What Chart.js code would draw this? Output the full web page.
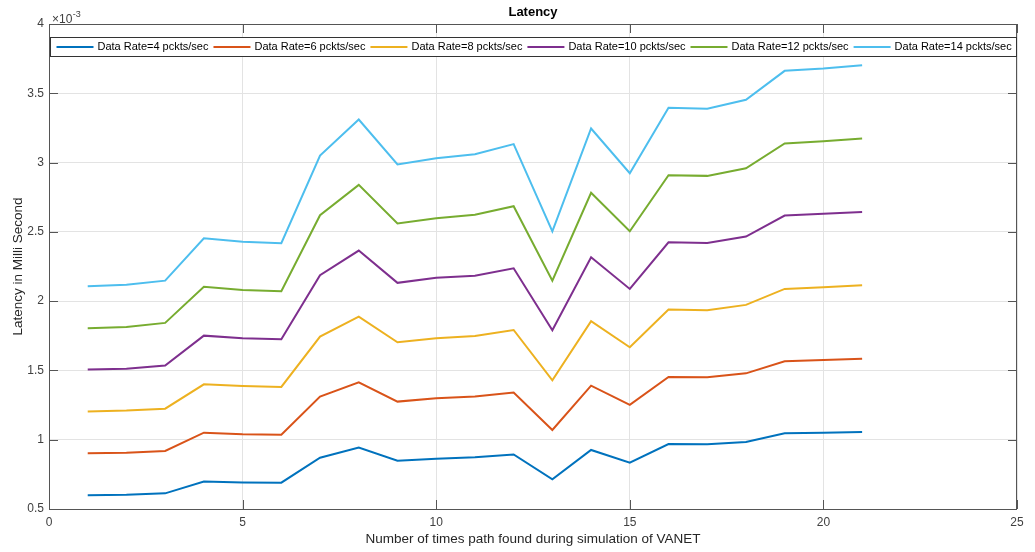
<!DOCTYPE html>
<html>
<head>
<meta charset="utf-8">
<title>Latency</title>
<script src="https://cdn.jsdelivr.net/npm/chart.js@4.4.1/dist/chart.umd.min.js"></script>
<style>
  html, body { margin: 0; padding: 0; background: #ffffff; }
  #wrap { width: 1035px; height: 552px; }
</style>
</head>
<body>
<div id="wrap"><canvas id="latencyChart" width="1035" height="552"></canvas></div>
<script>
// Number of times a path was found (x values)
const pathCounts = [1, 2, 3, 4, 5, 6, 7, 8, 9, 10, 11, 12, 13, 14, 15, 16, 17, 18, 19, 20, 21];

// Latency per data rate, in units of 1e-3 (multiplier shown above the y axis)
const rate4  = [0.600, 0.603, 0.613, 0.699, 0.692, 0.690, 0.870, 0.943, 0.849, 0.863, 0.873, 0.894, 0.714, 0.926, 0.834, 0.969, 0.967, 0.984, 1.046, 1.051, 1.056];
const rate6  = [0.902, 0.906, 0.919, 1.051, 1.039, 1.036, 1.311, 1.414, 1.275, 1.299, 1.311, 1.340, 1.070, 1.390, 1.251, 1.453, 1.450, 1.479, 1.566, 1.576, 1.585];
const rate8  = [1.203, 1.210, 1.224, 1.400, 1.388, 1.381, 1.744, 1.888, 1.703, 1.732, 1.749, 1.792, 1.429, 1.855, 1.667, 1.939, 1.934, 1.973, 2.088, 2.100, 2.114];
const rate10 = [1.506, 1.513, 1.535, 1.751, 1.732, 1.725, 2.187, 2.365, 2.132, 2.168, 2.184, 2.237, 1.790, 2.317, 2.088, 2.425, 2.420, 2.466, 2.618, 2.630, 2.644];
const rate12 = [1.804, 1.814, 1.843, 2.103, 2.081, 2.071, 2.620, 2.839, 2.560, 2.598, 2.623, 2.685, 2.148, 2.782, 2.504, 2.909, 2.904, 2.959, 3.138, 3.154, 3.174];
const rate14 = [2.107, 2.119, 2.148, 2.454, 2.428, 2.418, 3.051, 3.311, 2.986, 3.031, 3.060, 3.133, 2.504, 3.246, 2.923, 3.395, 3.388, 3.453, 3.662, 3.679, 3.703];

const seriesLabels = [
  'Data Rate=4 pckts/sec', 'Data Rate=6 pckts/sec', 'Data Rate=8 pckts/sec',
  'Data Rate=10 pckts/sec', 'Data Rate=12 pckts/sec', 'Data Rate=14 pckts/sec'
];
const seriesColors = ['#0072BD', '#D95319', '#EDB120', '#7E2F8E', '#77AC30', '#4DBEEE'];
const seriesValues = [rate4, rate6, rate8, rate10, rate12, rate14];

// Axis ticks
const xTicks = [0, 5, 10, 15, 20, 25];
const yTicks = [0.5, 1, 1.5, 2, 2.5, 3, 3.5, 4];

const chartTitle = 'Latency';
const xTitle = 'Number of times path found during simulation of VANET';
const yTitle = 'Latency in Milli Second';

const FONT = '"Liberation Sans", Arial, Helvetica, sans-serif';
const AXIS_COLOR = '#555555';

const datasets = seriesValues.map((vals, i) => ({
  label: seriesLabels[i],
  data: pathCounts.map((x, j) => ({ x: x, y: vals[j] })),
  borderColor: seriesColors[i],
  backgroundColor: seriesColors[i],
  borderWidth: 2,
  pointRadius: 0,
  tension: 0,
  fill: false
}));

// Box around the axes, inward ticks, title, exponent and an in-axes legend
const boxedAxes = {
  id: 'boxedAxes',
  afterDraw(chart) {
    const { ctx, chartArea: a, scales: { x, y } } = chart;
    const L = 9;
    ctx.save();

    // inward tick marks on all four sides
    ctx.strokeStyle = AXIS_COLOR;
    ctx.lineWidth = 1;
    ctx.beginPath();
    xTicks.forEach(v => {
      const px = Math.round(x.getPixelForValue(v)) + 0.5;
      ctx.moveTo(px, a.bottom); ctx.lineTo(px, a.bottom - L);
      ctx.moveTo(px, a.top);    ctx.lineTo(px, a.top + L);
    });
    yTicks.forEach(v => {
      const py = Math.round(y.getPixelForValue(v)) + 0.5;
      ctx.moveTo(a.left, py);  ctx.lineTo(a.left + L, py);
      ctx.moveTo(a.right, py); ctx.lineTo(a.right - L, py);
    });
    ctx.stroke();

    // axes box
    ctx.strokeRect(Math.round(a.left) + 0.5, Math.round(a.top) + 0.5,
                   Math.round(a.right) - Math.round(a.left) - 1,
                   Math.round(a.bottom) - Math.round(a.top));

    // title
    ctx.fillStyle = '#000000';
    ctx.font = 'bold 13px ' + FONT;
    ctx.textAlign = 'center';
    ctx.textBaseline = 'middle';
    ctx.fillText(chartTitle, (a.left + a.right) / 2, 12.5);

    // exponent multiplier above the y axis
    ctx.fillStyle = '#404040';
    ctx.textAlign = 'left';
    ctx.textBaseline = 'alphabetic';
    ctx.font = '12px ' + FONT;
    ctx.fillText('\u00d710', a.left + 3, 23);
    const w10 = ctx.measureText('\u00d710').width;
    ctx.font = '9px ' + FONT;
    ctx.fillText('-3', a.left + 3 + w10 + 0.5, 16.5);

    // legend box inside the axes
    const boxTop = 37.5, boxH = 19;
    const boxLeft = Math.round(a.left) + 1.5, boxRight = Math.round(a.right) - 0.5;
    ctx.fillStyle = '#ffffff';
    ctx.fillRect(boxLeft, boxTop, boxRight - boxLeft, boxH);
    ctx.strokeStyle = '#333333';
    ctx.lineWidth = 1;
    ctx.strokeRect(boxLeft, boxTop, boxRight - boxLeft, boxH);

    ctx.font = '11px ' + FONT;
    ctx.textBaseline = 'middle';
    const midY = boxTop + boxH / 2;
    let cx = boxLeft + 6;
    chart.data.datasets.forEach(ds => {
      ctx.strokeStyle = ds.borderColor;
      ctx.lineWidth = 2;
      ctx.beginPath();
      ctx.moveTo(cx, midY); ctx.lineTo(cx + 37, midY);
      ctx.stroke();
      cx += 41;
      ctx.fillStyle = '#000000';
      ctx.fillText(ds.label, cx, midY);
      cx += ctx.measureText(ds.label).width + 5;
    });

    ctx.restore();
  }
};

new Chart(document.getElementById('latencyChart'), {
  type: 'line',
  data: { datasets: datasets },
  options: {
    responsive: false,
    animation: false,
    layout: { padding: { top: 24, right: 18, left: 0, bottom: 0 } },
    plugins: {
      legend: { display: false },
      tooltip: { enabled: false },
      title: { display: false }
    },
    scales: {
      x: {
        type: 'linear',
        min: 0, max: 25,
        afterFit: s => { s.height = 43; },
        afterBuildTicks: s => { s.ticks = xTicks.map(v => ({ value: v })); },
        ticks: {
          padding: 6, color: '#404040', font: { family: FONT, size: 12 }, maxRotation: 0,
          callback: v => String(v)
        },
        grid: { color: '#e3e3e3', lineWidth: 1, drawTicks: false },
        border: { display: false },
        title: {
          display: true, text: xTitle, color: '#262626',
          font: { family: FONT, size: 13.5 },
          padding: { top: 4, bottom: 4.4 }
        }
      },
      y: {
        type: 'linear',
        min: 0.5, max: 4,
        afterFit: s => { s.width = 49; },
        afterBuildTicks: s => { s.ticks = yTicks.map(v => ({ value: v })); },
        ticks: {
          padding: 5, color: '#404040', font: { family: FONT, size: 12 },
          callback: v => String(v)
        },
        grid: { color: '#e3e3e3', lineWidth: 1, drawTicks: false },
        border: { display: false },
        title: {
          display: true, text: yTitle, color: '#262626',
          font: { family: FONT, size: 13.5 },
          padding: { top: 9.9, bottom: 4 }
        }
      }
    }
  },
  plugins: [boxedAxes]
});
</script>
</body>
</html>
